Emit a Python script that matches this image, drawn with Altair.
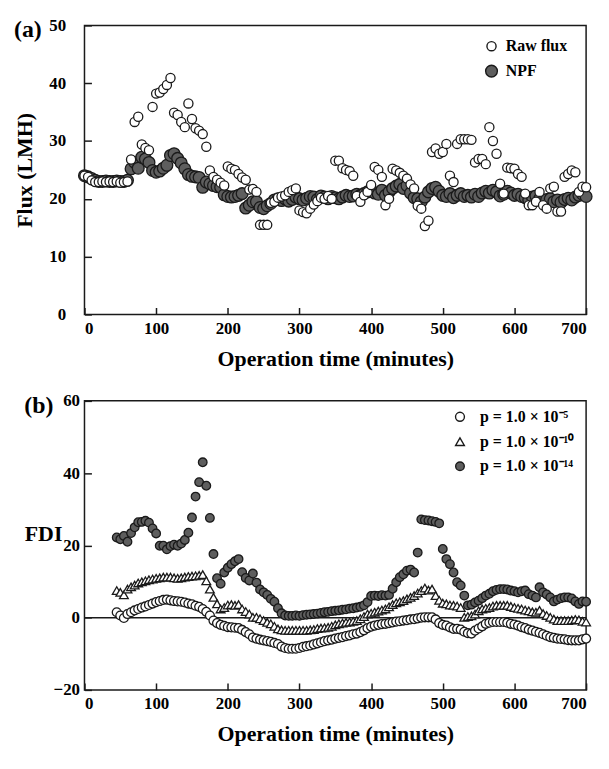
import altair as alt
import pandas as pd

# ---------------- data: panel (a) ----------------
time_a = [0, 5, 10, 15, 20, 25, 30, 35, 40, 45, 50, 55, 60, 65, 70, 75, 80, 85, 90, 95,
          100, 105, 110, 115, 120, 125, 130, 135, 140, 145, 150, 155, 160, 165, 170, 175, 180, 185, 190, 195,
          200, 205, 210, 215, 220, 225, 230, 235, 240, 245, 250, 255, 260, 265, 270, 275, 280, 285, 290, 295,
          300, 305, 310, 315, 320, 325, 330, 335, 340, 345, 350, 355, 360, 365, 370, 375, 380, 385, 390, 395,
          400, 405, 410, 415, 420, 425, 430, 435, 440, 445, 450, 455, 460, 465, 470, 475, 480, 485, 490, 495,
          500, 505, 510, 515, 520, 525, 530, 535, 540, 545, 550, 555, 560, 565, 570, 575, 580, 585, 590, 595,
          600, 605, 610, 615, 620, 625, 630, 635, 640, 645, 650, 655, 660, 665, 670, 675, 680, 685, 690, 695,
          700]

raw_flux = [24.0, 23.8, 23.2, 22.9, 22.9, 23.0, 22.9, 23.0, 22.9, 23.0, 22.8, 22.9, 23.0, 26.8, 33.3, 34.2, 29.4, 28.8, 28.4, 35.9,
            38.2, 38.4, 39.0, 39.7, 40.9, 34.9, 34.5, 33.3, 32.4, 36.5, 33.8, 32.2, 31.8, 31.2, 29.0, 24.9, 23.8, 23.3, 22.8, 22.3,
            25.6, 25.2, 25.0, 24.3, 23.7, 23.3, 21.6, 21.7, 21.2, 15.5, 15.5, 15.5, 19.3, 19.5, 20.2, 20.4, 20.6, 21.2, 21.5, 21.8,
            18.0, 17.7, 17.5, 18.3, 19.0, 19.6, 20.2, 20.0, 20.5, 20.0, 26.6, 26.6, 25.3, 25.0, 24.8, 24.0, 20.5, 19.5, 20.6, 21.2,
            22.4, 25.5, 25.0, 23.8, 18.9, 20.0, 25.2, 24.9, 24.5, 24.0, 23.5, 22.5, 21.8, 18.8, 18.3, 15.3, 16.2, 28.1, 28.7, 27.8,
            28.1, 29.5, 24.0, 22.9, 29.5, 30.3, 30.3, 30.3, 30.2, 26.3, 26.9, 26.9, 26.0, 32.4, 30.0, 27.8, 22.6, 20.9, 25.4, 25.3,
            25.2, 24.3, 23.8, 20.9, 18.9, 18.9, 19.5, 21.2, 18.9, 18.3, 21.8, 22.1, 17.8, 17.8, 23.8, 24.3, 24.9, 24.6, 21.2, 22.1,
            22.0]

npf = [24.0, 23.8, 23.5, 23.2, 23.0, 23.0, 23.1, 23.0, 23.0, 23.1, 23.0, 23.0, 23.2, 25.2, 26.3, 25.3, 27.2, 26.9, 26.3, 24.9,
       24.6, 24.8, 25.3, 25.8, 27.5, 27.8, 27.0, 26.2, 25.2, 24.2, 23.9, 23.8, 23.7, 22.0, 22.9, 22.6, 22.3, 22.1, 22.0, 20.7,
       20.4, 20.3, 20.4, 20.6, 20.9, 18.4, 18.9, 19.5, 19.5, 18.5, 18.3, 18.8, 19.2, 19.8, 20.0, 19.7, 20.0, 19.6, 19.9, 20.3,
       20.0, 19.8, 20.1, 20.4, 20.3, 19.9, 20.5, 20.3, 20.0, 20.4, 20.2, 20.0, 20.3, 20.6, 20.4, 20.5, 20.8, 20.6, 20.9, 21.2,
       21.5, 21.0, 20.8, 21.5, 20.6, 21.2, 21.8, 22.2, 22.5, 21.8, 22.3, 21.0, 20.2, 20.0, 19.5, 20.3, 21.2, 21.8, 22.0, 21.3,
       20.6, 20.4, 20.9, 20.2, 20.6, 20.9, 20.4, 20.6, 20.3, 20.8, 20.4, 21.0, 21.3, 21.0, 21.5, 21.2, 20.5, 20.8, 21.3, 21.0,
       20.6, 20.8, 20.4, 20.2, 19.8, 20.3, 20.5, 20.0, 19.6, 19.9, 20.0, 19.5, 19.8, 19.4, 19.9, 20.1, 19.8, 20.3, 20.6, 20.8,
       20.4]

# ---------------- data: panel (b) ----------------
time_b = [45, 50, 55, 60, 65, 70, 75, 80, 85, 90, 95,
          100, 105, 110, 115, 120, 125, 130, 135, 140, 145, 150, 155, 160, 165, 170, 175, 180, 185, 190, 195,
          200, 205, 210, 215, 220, 225, 230, 235, 240, 245, 250, 255, 260, 265, 270, 275, 280, 285, 290, 295,
          300, 305, 310, 315, 320, 325, 330, 335, 340, 345, 350, 355, 360, 365, 370, 375, 380, 385, 390, 395,
          400, 405, 410, 415, 420, 425, 430, 435, 440, 445, 450, 455, 460, 465, 470, 475, 480, 485, 490, 495,
          500, 505, 510, 515, 520, 525, 530, 535, 540, 545, 550, 555, 560, 565, 570, 575, 580, 585, 590, 595,
          600, 605, 610, 615, 620, 625, 630, 635, 640, 645, 650, 655, 660, 665, 670, 675, 680, 685, 690, 695,
          700]

fdi_p5 = [1.5, 0.6, -0.1, 1.0, 1.5, 2.0, 2.4, 2.8, 3.1, 3.5, 3.9,
          4.3, 4.6, 4.9, 5.0, 4.8, 4.6, 4.5, 4.4, 4.2, 3.9, 3.7, 3.3, 3.0, 2.4, 1.6, 0.6, -0.8, -1.5, -2.0, -2.3,
          -2.6, -2.7, -2.8, -2.9, -3.4, -4.0, -4.6, -5.5, -5.8, -6.1, -6.3, -6.5, -6.7, -7.0, -7.3, -8.0, -8.4, -8.6, -8.6, -8.6,
          -8.4, -8.1, -7.9, -7.7, -7.4, -7.1, -6.8, -6.5, -6.3, -6.1, -5.8, -5.6, -5.4, -5.1, -4.9, -4.6, -4.4, -4.0, -3.5, -2.9,
          -2.5, -2.2, -2.0, -1.8, -1.7, -1.5, -1.3, -1.1, -1.0, -0.8, -0.7, -0.5, -0.4, -0.2, 0.0, 0.1, 0.1, 0.1, -0.5, -1.5,
          -2.0, -2.2, -2.7, -3.1, -3.1, -3.3, -3.9, -4.3, -4.4, -3.6, -3.0, -2.4, -1.7, -1.4, -1.2, -1.2, -1.2, -1.2, -1.4, -1.7,
          -1.9, -2.2, -2.6, -2.9, -3.3, -3.6, -3.9, -4.2, -4.6, -5.0, -5.4, -5.6, -5.8, -5.9, -6.0, -6.2, -6.3, -6.3, -6.3, -6.0,
          -5.8]

fdi_p10 = [7.5, 7.0, 6.3, 7.9, 8.5, 9.0, 9.6, 9.9, 10.2, 10.5, 10.7,
           10.9, 11.0, 11.2, 11.2, 11.2, 11.0, 10.9, 11.0, 11.2, 11.4, 11.5, 11.6, 11.7, 11.9, 10.2, 7.9, 5.6, 3.8, 2.4, 2.8,
           3.5, 3.6, 3.4, 3.6, 2.4, 1.7, 1.0, 0.1, 0.1, -0.3, -0.8, -1.3, -1.7, -2.4, -3.1, -3.4, -3.5, -3.5, -3.5, -3.5,
           -3.5, -3.5, -3.5, -3.4, -3.3, -3.0, -2.9, -2.8, -2.7, -2.4, -2.0, -1.7, -1.5, -1.3, -1.2, -1.0, -0.8, -0.3, 0.3, 1.0,
           1.2, 1.5, 1.8, 2.1, 2.4, 3.0, 3.6, 4.1, 4.4, 4.7, 5.2, 5.6, 6.1, 6.8, 7.5, 8.2, 7.6, 7.9, 6.1, 4.8,
           4.0, 3.8, 3.5, 3.4, 3.2, 2.8, 0.1, 0.3, 0.5, 1.0, 1.9, 2.4, 2.6, 2.8, 3.2, 3.4, 3.4, 3.4, 3.4, 3.1,
           2.8, 2.6, 2.4, 2.1, 1.9, 1.6, 1.5, 2.0, 1.1, 0.6, 0.1, -0.4, -0.8, -0.8, -0.8, -0.8, -0.7, -0.5, -0.6, -1.0,
           -1.2]

fdi_p14 = [22.2, 21.7, 22.6, 21.0, 23.4, 25.0, 26.4, 26.5, 26.8, 26.3, 24.7,
           23.3, 19.9, 19.9, 18.9, 19.8, 20.2, 19.9, 20.5, 21.5, 23.5, 27.7, 33.5, 37.5, 43.0, 36.5, 27.6, 17.6, 10.9, 9.4, 12.5,
           13.8, 14.8, 15.6, 16.2, 12.6, 11.0, 10.3, 12.2, 9.7, 7.8, 7.0, 6.3, 5.2, 4.4, 2.6, 1.2, 0.6, 0.5, 0.5, 0.6,
           0.5, 0.7, 0.8, 0.9, 1.0, 1.1, 1.3, 1.5, 1.6, 1.8, 1.9, 2.0, 2.2, 2.3, 2.5, 2.6, 2.8, 3.0, 3.4, 4.3,
           6.0, 6.1, 6.0, 6.2, 6.1, 6.3, 8.0, 9.8, 11.2, 12.0, 13.0, 13.3, 12.5, 18.0, 27.2, 27.0, 26.9, 26.7, 26.5, 26.1,
           19.0, 16.2, 14.8, 12.5, 9.8, 8.9, 6.1, 3.4, 3.6, 4.2, 4.7, 5.4, 6.1, 6.6, 7.3, 7.7, 7.9, 7.9, 7.8, 7.5,
           7.3, 7.0, 7.3, 7.5, 6.5, 6.1, 5.6, 8.4, 7.0, 6.4, 5.6, 4.5, 5.0, 5.4, 5.6, 5.6, 5.3, 4.5, 3.8, 4.5,
           4.4]

# axis labels
x_labels = [0, 100, 200, 300, 400, 500, 600, 700]
flux_labels = [0, 10, 20, 30, 40, 50]
fdi_labels = [-20, 0, 20, 40, 60]
x_range = [0, 700]
flux_range = [0, 50]
fdi_range = [-20, 60]
zero_line = [0]

series_a = ["Raw flux", "NPF"]
series_b = ["p = 1.0 × 10⁻⁵", "p = 1.0 × 10⁻¹⁰", "p = 1.0 × 10⁻¹⁴"]

# legend key placement (in data units of each panel)
key_a_symbol_t, key_a_text_t, key_a_v = 568, 588, [46.4, 42.1]
key_b_symbol_t, key_b_text_t, key_b_v = 524, 552, [55.6, 48.7, 41.9]

FONT = "Liberation Serif"
W, H = 505, 291
GRAY = "#5e5e5e"
EDGE = "#1a1a1a"
TICK = 7

df_a = pd.concat([
    pd.DataFrame({"t": time_a, "v": npf, "series": series_a[1]}),
    pd.DataFrame({"t": time_a, "v": raw_flux, "series": series_a[0]}),
], ignore_index=True)
df_b = pd.concat([
    pd.DataFrame({"t": time_b, "v": fdi_p14, "series": series_b[2]}),
    pd.DataFrame({"t": time_b, "v": fdi_p10, "series": series_b[1]}),
    pd.DataFrame({"t": time_b, "v": fdi_p5, "series": series_b[0]}),
], ignore_index=True)

X_AX = alt.Axis(values=x_labels, title="Operation time (minutes)", ticks=True, tickSize=TICK, offset=-TICK,
                tickColor=EDGE, tickWidth=1.5, labelPadding=6, titlePadding=12, format="d")
Y_AX_A = alt.Axis(values=flux_labels, title="Flux (LMH)", ticks=True, tickSize=TICK, offset=-TICK,
                  tickColor=EDGE, tickWidth=1.5, labelPadding=19, titlePadding=12)
Y_AX_B = alt.Axis(values=fdi_labels, title="FDI", ticks=True, tickSize=TICK, offset=-TICK,
                  tickColor=EDGE, tickWidth=1.5, labelPadding=5, titleAngle=0, titlePadding=10)


def panel(df, series, fills, shapes, sizes, yr, y_ax, label, key_sym_t, key_txt_t, key_v, with_zero=False):
    xs = alt.Scale(domain=x_range, nice=False, zero=False)
    ys = alt.Scale(domain=yr, nice=False, zero=False)
    fill_enc = alt.Fill("series:N", scale=alt.Scale(domain=series, range=fills), legend=None)
    shape_enc = alt.Shape("series:N", scale=alt.Scale(domain=series, range=shapes), legend=None)
    size_enc = alt.Size("series:N", scale=alt.Scale(domain=series, range=sizes), legend=None)
    pts = alt.Chart(df).mark_point(stroke=EDGE, strokeWidth=1.3, opacity=1, fillOpacity=1).encode(
        x=alt.X("t:Q", scale=xs, axis=X_AX),
        y=alt.Y("v:Q", scale=ys, axis=y_ax),
        fill=fill_enc, shape=shape_enc, size=size_enc,
    )
    key_df = pd.DataFrame({"series": series, "t": key_sym_t, "tt": key_txt_t, "v": key_v})
    key_sym = alt.Chart(key_df).mark_point(stroke=EDGE, strokeWidth=1.4, opacity=1, fillOpacity=1).encode(
        x=alt.X("t:Q", scale=xs, axis=X_AX),
        y=alt.Y("v:Q", scale=ys, axis=y_ax),
        fill=fill_enc, shape=shape_enc, size=size_enc,
    )
    key_txt = alt.Chart(key_df).mark_text(
        font=FONT, fontSize=16, fontWeight="bold", align="left", baseline="middle", color="black"
    ).encode(
        x=alt.X("tt:Q", scale=xs, axis=X_AX),
        y=alt.Y("v:Q", scale=ys, axis=y_ax),
        text="series:N",
    )
    layers = []
    if with_zero:
        layers.append(alt.Chart(pd.DataFrame({"v": zero_line})).mark_rule(color=EDGE, strokeWidth=1.5).encode(
            y=alt.Y("v:Q", scale=ys, axis=y_ax)))
    layers += [pts, key_sym, key_txt]
    return alt.layer(*layers).properties(
        width=W, height=H,
        title=alt.TitleParams(label, anchor="start", frame="bounds", font=FONT, fontSize=24,
                              fontWeight="bold", color="black", offset=-26),
    )


top = panel(df_a, series_a, ["white", GRAY], ["circle", "circle"], [85, 140],
            flux_range, Y_AX_A, "(a)", key_a_symbol_t, key_a_text_t, key_a_v)
bottom = panel(df_b, series_b, ["white", "white", GRAY], ["circle", "triangle-up", "circle"], [80, 75, 110],
               fdi_range, Y_AX_B, "(b)", key_b_symbol_t, key_b_text_t, key_b_v, with_zero=True)

chart = alt.vconcat(top, bottom, spacing=21).resolve_scale(
    fill="independent", shape="independent", size="independent"
).configure_view(
    stroke=EDGE, strokeWidth=1.5
).configure_axis(
    domain=False, grid=False,
    labelFont=FONT, labelFontSize=17, labelFontWeight="bold", labelColor="black",
    titleFont=FONT, titleFontSize=22, titleFontWeight="bold", titleColor="black",
)

chart.save("out.html", embed_options={"renderer": "svg", "actions": False})
